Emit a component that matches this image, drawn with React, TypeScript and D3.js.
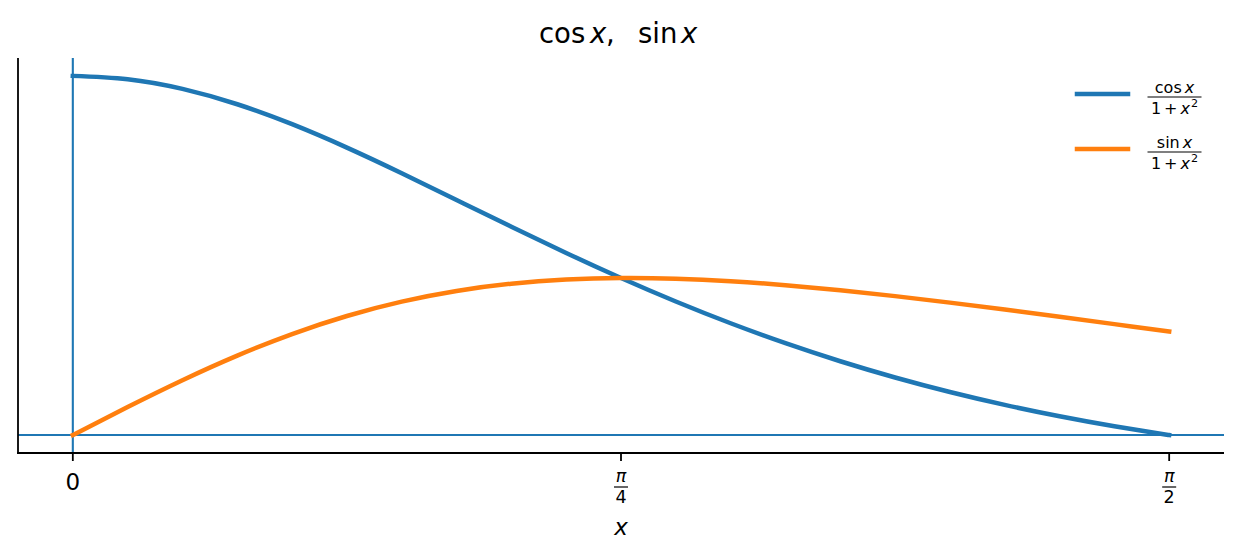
import React from 'react';
import * as d3 from 'd3';

// samples, x in radians (0 .. pi/2)
const xSamples = [
  0, 0.07854, 0.15708, 0.23562, 0.314159, 0.392699, 0.471239, 0.549779, 0.628319, 0.706858,
  0.785398, 0.863938, 0.942478, 1.021018, 1.099557, 1.178097, 1.256637, 1.335177, 1.413717,
  1.492257, 1.570796,
];
const cosValues = [
  1, 0.990805, 0.963904, 0.921227, 0.865624, 0.800441, 0.729099, 0.654739, 0.580031, 0.507056,
  0.437336, 0.371881, 0.311284, 0.255816, 0.205516, 0.160258, 0.119814, 0.083892, 0.052169,
  0.024314, 0,
];
const sinValues = [
  0, 0.077978, 0.152667, 0.221166, 0.281258, 0.331553, 0.371494, 0.401226, 0.421417, 0.433067,
  0.437336, 0.435416, 0.428445, 0.417454, 0.403348, 0.386898, 0.368751, 0.349435, 0.329384,
  0.308945, 0.2884,
];
const xTickValues = [0, 0.785398, 1.570796];
const xTickDenoms = [null, '4', '2'];

const W = 1242;
const H = 558;
const margin = { top: 58, right: 18, bottom: 105, left: 18 };
const font = 'DejaVu Sans';
const blue = '#1f77b4';
const orange = '#ff7f0e';

function Frac({ x, y, top, size }: { x: number; y: number; top: React.ReactNode; size: number }) {
  return (
    <g transform={`translate(${x},${y})`} fontFamily={font} fontSize={size} textAnchor="middle">
      <text y={-4}>{top}</text>
      <line x1={-27} x2={27} y1={0} y2={0} stroke="#000" strokeWidth={1.2} />
      <text y={size + 1}>
        1<tspan dx={3}>+</tspan>
        <tspan dx={3} fontStyle="italic">x</tspan>
        <tspan fontSize={size * 0.7} dy={-size * 0.42} dx={1}>2</tspan>
      </text>
    </g>
  );
}

export default function App() {
  const x = d3.scaleLinear().domain([-0.0785398, 1.6493361]).range([margin.left, W - margin.right]);
  const y = d3.scaleLinear().domain([-0.05, 1.05]).range([H - margin.bottom, margin.top]);

  const line = d3
    .line<number>()
    .x((_, i) => x(xSamples[i]))
    .y((d) => y(d))
    .curve(d3.curveNatural);

  const bottom = H - margin.bottom;

  return (
    <svg width={W} height={H} style={{ position: 'absolute', left: 0, top: 0, background: '#fff' }}>
      {/* reference lines at x=0, y=0 */}
      <line x1={x(0)} x2={x(0)} y1={margin.top} y2={bottom} stroke={blue} strokeWidth={2.1} />
      <line x1={margin.left} x2={W - margin.right} y1={y(0)} y2={y(0)} stroke={blue} strokeWidth={2.1} />

      <path d={line(cosValues) || ''} fill="none" stroke={blue} strokeWidth={4.5} strokeLinecap="square" />
      <path d={line(sinValues) || ''} fill="none" stroke={orange} strokeWidth={4.5} strokeLinecap="square" />

      {/* spines */}
      <line x1={margin.left} x2={margin.left} y1={margin.top} y2={bottom + 0.9} stroke="#000" strokeWidth={1.8} />
      <line x1={margin.left - 0.9} x2={W - margin.right} y1={bottom} y2={bottom} stroke="#000" strokeWidth={1.8} />

      {/* x ticks */}
      {xTickValues.map((v, i) => (
        <g key={i} transform={`translate(${x(v)},${bottom})`}>
          <line y1={0} y2={8} stroke="#000" strokeWidth={1.8} />
          {xTickDenoms[i] === null ? (
            <text y={37} textAnchor="middle" fontFamily={font} fontSize={23}>0</text>
          ) : (
            <g fontFamily={font} fontSize={17.5} textAnchor="middle">
              <text y={29} fontStyle="italic">π</text>
              <line x1={-7} x2={7} y1={34} y2={34} stroke="#000" strokeWidth={1.2} />
              <text y={49.5}>{xTickDenoms[i]}</text>
            </g>
          )}
        </g>
      ))}

      <text x={x(0.785398)} y={535} textAnchor="middle" fontFamily={font} fontSize={23} fontStyle="italic">x</text>

      {/* title */}
      <g fontFamily={font} fontSize={27.5}>
        <text x={539} y={43}>cos</text>
        <text x={590} y={43} fontStyle="italic">x</text>
        <text x={606} y={43}>,</text>
        <text x={638} y={43}>sin</text>
        <text x={681} y={43} fontStyle="italic">x</text>
      </g>

      {/* legend */}
      <line x1={1077} x2={1128} y1={94} y2={94} stroke={blue} strokeWidth={4.5} strokeLinecap="square" />
      <line x1={1077} x2={1128} y1={149} y2={149} stroke={orange} strokeWidth={4.5} strokeLinecap="square" />
      <Frac x={1174.5} y={97} size={16} top={<>cos<tspan dx={3} fontStyle="italic">x</tspan></>} />
      <Frac x={1174.5} y={152} size={16} top={<>sin<tspan dx={3} fontStyle="italic">x</tspan></>} />
    </svg>
  );
}
